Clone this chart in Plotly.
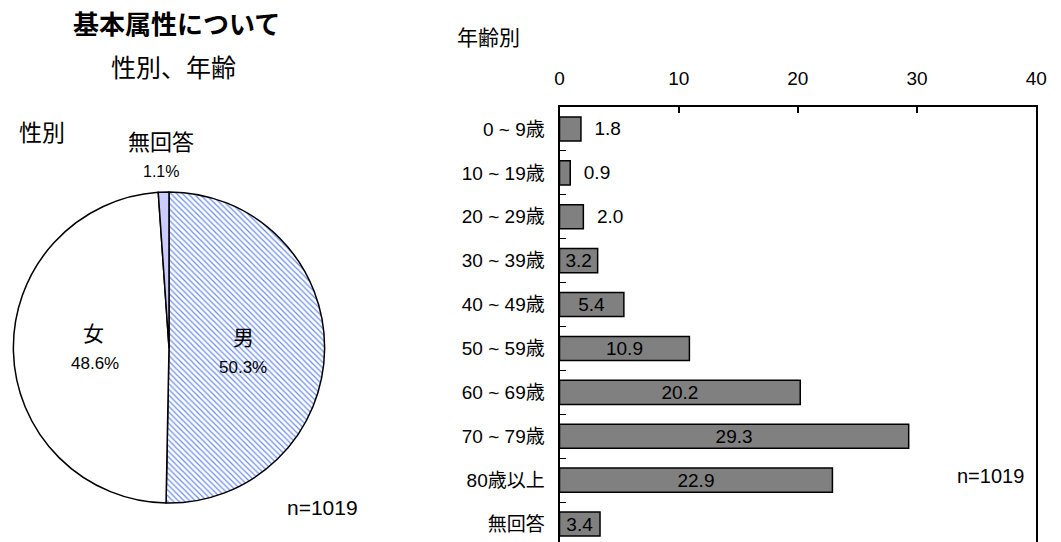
import plotly.graph_objects as go

W, H = 1061, 542
FONT = "Liberation Sans, Noto Sans CJK JP, sans-serif"

# ---- data ----
sex_labels = ["男", "女", "無回答"]
sex_values = [50.3, 48.6, 1.1]
n_total = 1019

age_labels = ["0 ~ 9歳", "10 ~ 19歳", "20 ~ 29歳", "30 ~ 39歳", "40 ~ 49歳",
              "50 ~ 59歳", "60 ~ 69歳", "70 ~ 79歳", "80歳以上", "無回答"]
age_values = [1.8, 0.9, 2.0, 3.2, 5.4, 10.9, 20.2, 29.3, 22.9, 3.4]
x_ticks = [0, 10, 20, 30, 40]

fig = go.Figure()

# ---- pie ----
cx, cy, r = 166.5, 347.5, 158
fig.add_trace(go.Pie(
    labels=sex_labels, values=sex_values, sort=False, direction="clockwise",
    rotation=0, textinfo="none", showlegend=False, hoverinfo="label+percent",
    domain=dict(x=[(cx - r) / W, (cx + r) / W], y=[1 - (cy + r) / H, 1 - (cy - r) / H]),
    marker=dict(
        colors=["#6a8cf0", "white", "#ccccff"],
        line=dict(color="black", width=1.5),
        pattern=dict(shape=["\\", "", ""], fgcolor=["#6a8cf0", "white", "#ccccff"],
                     bgcolor=["white", "white", "#ccccff"], size=4, solidity=0.3,
                     fillmode="replace"),
    ),
))

# ---- bars ----
positions = ["outside" if v < 3 else "inside" for v in age_values]
texts = [("\u00a0\u00a0" + f"{v:.1f}") if v < 3 else f"{v:.1f}" for v in age_values]
fig.add_trace(go.Bar(
    y=age_labels, x=age_values, orientation="h", width=0.55,
    marker=dict(color="#808080", line=dict(color="black", width=1.5)),
    text=texts, textposition=positions, insidetextanchor="middle",
    textfont=dict(family=FONT, size=19, color="black"),
    insidetextfont=dict(family=FONT, size=19, color="black"),
    outsidetextfont=dict(family=FONT, size=19, color="black"),
    cliponaxis=False, showlegend=False, xaxis="x", yaxis="y",
))

top_px = 107
band = 43.9
n_bands = (H - top_px) / band
fig.update_layout(
    width=W, height=H, margin=dict(l=0, r=0, t=0, b=0),
    paper_bgcolor="white", plot_bgcolor="white",
    font=dict(family=FONT, size=19, color="black"),
    uniformtext=dict(minsize=19, mode="show"),
    xaxis=dict(domain=[563 / W, 1047 / W], range=[0, 40], side="top",
               tickvals=x_ticks, ticks="inside", ticklen=6, tickwidth=1.5,
               tickcolor="black", showline=True, linecolor="black", linewidth=2,
               showgrid=False, zeroline=False, ticklabelstandoff=12,
               tickfont=dict(size=19), fixedrange=True),
    yaxis=dict(domain=[0, 1 - top_px / H], range=[-0.5 + n_bands, -0.5],
               showline=True, linecolor="black", linewidth=2, mirror=True,
               ticks="inside", tickson="boundaries", ticklen=6, tickcolor="black",
               tickwidth=1, showgrid=False, zeroline=False, ticklabelstandoff=9,
               tickfont=dict(size=19), fixedrange=True, type="category"),
)

ann = [
    dict(x=174, y=25, text="<b>基本属性について</b>", size=26),
    dict(x=171, y=68, text="性別、年齢", size=25),
    dict(x=38, y=133, text="性別", size=23),
    dict(x=158, y=142, text=sex_labels[2], size=22),
    dict(x=158, y=172, text=f"{sex_values[2]:.1f}%", size=16),
    dict(x=90, y=333, text=sex_labels[1], size=21),
    dict(x=91, y=363, text=f"{sex_values[1]:.1f}%", size=17),
    dict(x=242, y=337, text=sex_labels[0], size=21),
    dict(x=242, y=367, text=f"{sex_values[0]:.1f}%", size=17),
    dict(x=322, y=507, text=f"n={n_total}", size=21),
    dict(x=491, y=38, text="年齢別", size=21),
    dict(x=1001, y=476, text=f"n={n_total}", size=20),
]
for a in ann:
    fig.add_annotation(x=a["x"] / W, y=1 - a["y"] / H, xref="paper", yref="paper",
                       text=a["text"], showarrow=False, xanchor="center", yanchor="middle",
                       font=dict(family=FONT, size=a["size"], color="black"))

fig.write_html("out.html", config={"displayModeBar": False},
               post_script="document.body.style.margin='0';document.body.style.overflow='hidden';")
